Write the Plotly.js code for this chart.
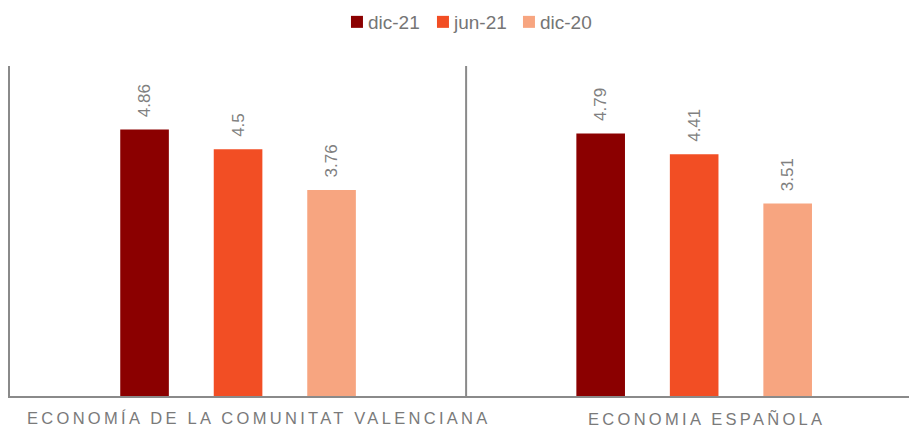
<!DOCTYPE html>
<html>
<head>
<meta charset="utf-8">
<script src="https://cdn.plot.ly/plotly-3.0.1.min.js"></script>
<style>
html,body{margin:0;padding:0;background:#fff;}
#chart{width:909px;height:428px;}
.annotation-text{letter-spacing:3.3px;}
.legend .legendtext{transform:translateX(-9px);}
</style>
</head>
<body>
<div id="chart"></div>
<script>
const categories = ["ECONOMÍA DE LA COMUNITAT VALENCIANA", "ECONOMIA ESPAÑOLA"];
const seriesNames = ["dic-21", "jun-21", "dic-20"];
const dic21 = [4.86, 4.79];
const jun21 = [4.5, 4.41];
const dic20 = [3.76, 3.51];
const colors = ["#8B0000", "#F24E24", "#F7A580"];

const FONT = "Liberation Sans, Arial, sans-serif";
const values = [dic21, jun21, dic20];
const traces = values.map((v, i) => ({
  type: "bar",
  name: seriesNames[i],
  x: categories,
  y: v,
  marker: {color: colors[i]},
  text: v.map(n => "\u00a0\u00a0" + String(n)),
  textposition: "outside",
  textangle: -90,
  constraintext: "none",
  cliponaxis: false,
  textfont: {family: FONT, size: 17, color: "#808080"},
  hoverinfo: "skip"
}));

const shifts = [21, 12];
const layout = {
  width: 909, height: 428,
  margin: {l: 10, r: 0, t: 66, b: 32, autoexpand: false},
  paper_bgcolor: "#fff", plot_bgcolor: "#fff",
  barmode: "group",
  bargap: 0.385,
  bargroupgap: 0.48,
  showlegend: true,
  legend: {orientation: "h", x: 0.3637, xanchor: "left", y: 1.1333, yanchor: "middle",
    font: {family: FONT, size: 19, color: "#757575"},
    itemwidth: 30, entrywidth: 41, traceorder: "normal"},
  xaxis: {
    type: "category",
    range: [-0.5, 1.471],
    showline: true, linecolor: "#8a8a8a", linewidth: 2,
    ticks: "", showgrid: false, zeroline: false, showticklabels: false,
    fixedrange: true
  },
  yaxis: {
    range: [0, 6.02],
    showline: true, linecolor: "#8a8a8a", linewidth: 2,
    showticklabels: false, ticks: "", showgrid: false, zeroline: false,
    fixedrange: true
  },
  annotations: categories.map((c, i) => ({
    text: c, x: c, xref: "x", y: -0.0667, yref: "paper",
    xanchor: "center", yanchor: "middle", showarrow: false, xshift: shifts[i],
    font: {family: FONT, size: 16.5, color: "#7a7a7a"}
  })),
  shapes: [{type: "line", xref: "x", yref: "paper", x0: 0.5, x1: 0.5, y0: 0, y1: 1,
    line: {color: "#8a8a8a", width: 2}}]
};

Plotly.newPlot("chart", traces, layout, {displayModeBar: false, staticPlot: true});
</script>
</body>
</html>
